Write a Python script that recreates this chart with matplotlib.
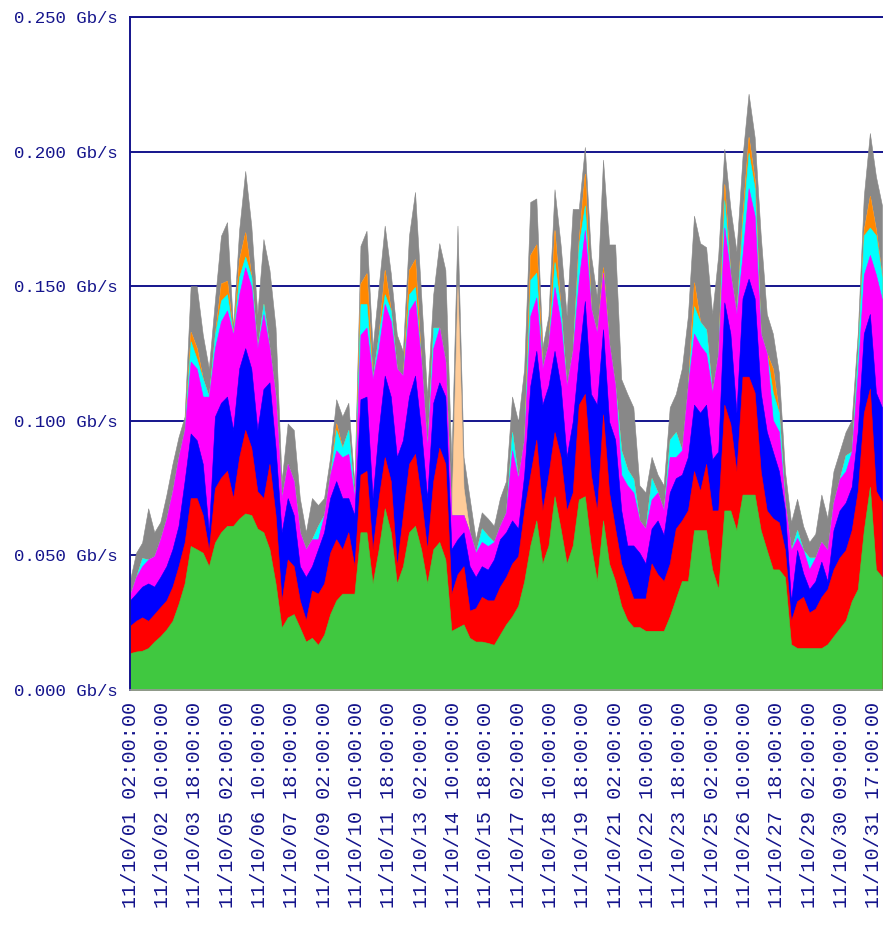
#Import libraries
import matplotlib
matplotlib.use("Agg")
import matplotlib.pyplot as plt
import numpy as np

# Hours since 11/10/01 02:00:00, one reading every 6 hours
hours = np.arange(0, 745, 6)

# Upper edge of each band in Mb/s
green_top = [13.7, 14.3, 14.6, 15.6, 18, 20, 22.5, 25.7, 32, 39.6,
             53.5, 52.3, 51, 46, 54.8, 58.6, 61, 61, 63.7, 65.6,
             65, 60, 58.6, 52.3, 39.6, 23.2, 27, 28.2, 23.2, 18,
             19.4, 16.8, 20.6, 28.2, 33.3, 35.8, 35.8, 35.8, 58.6, 58.6,
             39.6, 52.3, 67.5, 58.6, 39.6, 46, 58.6, 61, 52.3, 39.6,
             52.3, 55, 48.5, 22, 23.2, 24.4, 19.4, 18, 18, 17.5,
             16.8, 20.6, 24.4, 27.4, 31.3, 40.5, 53.7, 63, 47, 53.7,
             72, 60, 47, 53.7, 70.8, 72, 53.7, 40.5, 63, 47,
             40.5, 31.3, 26, 23.4, 23.4, 22, 22, 22, 22, 27.4,
             34, 40.5, 40.5, 59.4, 59.4, 59.4, 44.8, 37.5, 66.7, 66.7,
             59.4, 72.6, 72.6, 72.6, 59.4, 52, 44.8, 44.8, 41.9, 17,
             15.6, 15.6, 15.6, 15.6, 15.6, 17, 20, 22.9, 25.8, 33,
             37.5, 59.4, 75.5, 44.8, 42]
red_top = [23.8, 25.7, 27, 25.7, 28.2, 30.8, 33.3, 38.4, 46, 54.8,
           71.3, 71.3, 65, 52, 75, 78.9, 81.4, 71.3, 86.5, 96.6,
           90, 73.8, 71.3, 84, 65, 33.3, 48.5, 46, 33.3, 26,
           37, 35.8, 39.6, 51, 56, 52.3, 58.6, 46, 80, 81.4,
           52.3, 71.3, 86.5, 77.6, 46, 65, 84, 87.7, 71.3, 52.3,
           77.6, 90, 84, 35.8, 43, 46, 29.5, 30.4, 34.6, 33.3,
           33.3, 38.4, 42, 47, 49.7, 66.8, 80, 93, 66.8, 80,
           95.8, 86.6, 66.8, 73.4, 106, 110, 80, 66.8, 102.4, 73.4,
           60, 47, 40.5, 34, 34, 34, 47, 43, 40.5, 47,
           60, 63, 66.8, 81.3, 74, 84, 66.7, 66.7, 106, 98.8,
           81.3, 116.4, 116.4, 110.5, 81.3, 66.7, 63.8, 62.3, 52, 25.8,
           33, 34.6, 28.8, 30.2, 34.6, 37.5, 44.8, 49.2, 52, 59.4,
           74, 103, 112, 74, 70]
blue_top = [33.3, 35.8, 38.4, 39.6, 38.4, 42, 46, 52.3, 61, 77.6,
            95.3, 92.8, 84, 58.6, 101.6, 106.7, 109, 96.6, 119.4, 127,
            119.4, 96.6, 111.8, 114.3, 90, 58.6, 71.3, 65, 46, 42,
            46, 52.3, 58.6, 71.3, 77.6, 71.3, 71.3, 65, 108, 109,
            71.3, 96.6, 116.8, 109, 86.5, 92.8, 109, 116.8, 96.6, 71.3,
            106.7, 114.3, 109, 52.3, 56, 58.6, 46, 42, 46, 44.7,
            48.5, 56, 58.6, 63, 60, 80, 113, 126, 106, 113,
            126, 113, 86.6, 99.7, 123.4, 144.5, 110, 106, 134, 99.7,
            93, 66.8, 53.7, 53.7, 51, 47, 60, 63, 57.6, 73.4,
            78.7, 80, 86.6, 106, 103, 106, 85.7, 88.6, 144, 132.4,
            103, 145.5, 152.8, 145.5, 110.5, 96, 88.6, 81.3, 66.7, 33,
            52, 43.4, 37.5, 40.4, 47.7, 40.4, 59.4, 66.7, 69.6, 75.5,
            96, 132.4, 139.7, 110.5, 105]
magenta_top = [35.2, 42, 46, 48.5, 49.7, 56, 63.7, 73.8, 86.5, 96.6,
               122, 119.4, 109, 109, 127, 137, 141, 132, 147, 157,
               149.7, 127, 139.6, 127, 109, 71.3, 84, 77.6, 58.6, 52.3,
               56, 56, 65, 80, 89, 86.5, 87.7, 71.3, 132, 134.6,
               115.6, 127, 143.4, 137, 119.4, 116.8, 141, 144.7, 122, 90,
               127, 134.6, 122, 65, 65, 65, 58.6, 51, 55, 53.5,
               55, 61, 66, 89, 78.7, 93, 139, 145.8, 119.5, 128.7,
               149.7, 136.6, 113, 126, 152.4, 170.8, 141.8, 132.6, 155, 128.7,
               113, 80, 76, 73.4, 63, 60, 70.8, 73.4, 66.8, 86.6,
               86.6, 89, 113, 132.4, 128, 125, 110.5, 125, 171.8, 154.3,
               139.7, 161.6, 186.4, 176.2, 132.4, 125, 100.3, 96, 69.6, 52,
               56.5, 52, 44.8, 49.2, 55, 52, 69.6, 78.4, 81.3, 88.6,
               117.8, 154.3, 161.6, 154.3, 145]
total_top = [40.9, 51, 54.8, 67.5, 58.6, 62.4, 72.5, 84, 94, 101.6,
             150, 150, 132, 119.4, 144.7, 168.7, 173.8, 134.6, 171, 192.8,
             172.5, 139.6, 167.5, 156, 134.6, 77.6, 99, 96.6, 71.3, 58.6,
             71.3, 68.7, 71.3, 86.5, 108, 101.6, 106.7, 76.3, 165, 170.6,
             127, 149.7, 172.5, 154.8, 132, 125.7, 168.7, 185, 147, 109,
             147, 166, 156, 84, 172.5, 86.5, 71.3, 56, 66, 63.7,
             61, 71.3, 77.6, 109, 99.7, 119.5, 181.3, 182.6, 127.4, 139,
             186, 165.5, 139, 178.7, 178.7, 201.7, 161.6, 145.8, 197, 165.5,
             165.5, 115.5, 110, 105, 76, 73.4, 86.6, 80, 76, 105,
             110, 119.5, 139, 176.2, 166, 164.5, 139.7, 161.6, 201, 179,
             163, 198.1, 221.5, 205.4, 169, 139.7, 132.4, 117.8, 81.3, 62.3,
             71, 60.9, 55, 58, 72.6, 63.8, 81.3, 88.6, 95.9, 100.3,
             132.4, 183.5, 206.9, 190.8, 180]

# Thin bands stacked on the magenta one (Mb/s)
cyan_band = [0, 0, 3, 0, 0, 0, 0, 0, 0, 0,
             7.5, 3.6, 6.6, 0, 5, 7.7, 6, 0, 6.5, 4,
             3.8, 0, 3.8, 0, 0, 0, 0, 0, 0, 0,
             0, 5, 0, 0, 7.6, 3.5, 8.9, 0, 11.4, 8.8,
             0, 5, 3.6, 4, 0, 0, 6, 5, 0, 0,
             7.6, 0, 0, 0, 0, 0, 0, 0, 5, 3.8,
             0, 0, 0, 6.8, 0, 0, 13.4, 9.2, 0, 0,
             9.3, 5.2, 0, 0, 13.1, 9.2, 0, 0, 0, 0,
             0, 9, 6, 5, 0, 0, 7.9, 0, 0, 6.4,
             9.2, 0, 0, 10.2, 8.8, 8.9, 0, 0, 10.2, 0,
             0, 12, 13.2, 10.2, 0, 0, 10.2, 7, 0, 0,
             2.9, 0, 4.4, 0, 0, 0, 0, 0, 5.9, 0,
             7.2, 14.6, 10.2, 14.6, 8]
orange_band = [0, 0, 0, 0, 0, 0, 0, 0, 0, 0,
               3.5, 4, 0, 0, 0, 6.3, 5, 0, 6.5, 9,
               0, 0, 0, 0, 0, 0, 0, 0, 0, 0,
               0, 0, 0, 0, 2.4, 0, 0, 0, 7.6, 11.4,
               0, 0, 9, 0, 0, 0, 9, 10.3, 0, 0,
               0, 0, 0, 0, 0, 0, 0, 0, 0, 0,
               0, 0, 0, 0, 0, 0, 9.2, 10.5, 0, 0,
               11.8, 0, 0, 0, 2, 11.8, 0, 0, 2, 0,
               0, 0, 0, 0, 0, 0, 0, 0, 0, 0,
               0, 0, 0, 8.8, 0, 0, 0, 0, 5.9, 0,
               0, 3, 5.8, 3, 0, 0, 8.8, 0, 0, 0,
               0, 0, 0, 0, 0, 0, 0, 0, 0, 0,
               0, 2, 11.7, 2, 0]
peach_band = [0] * 54 + [85, 10] + [0] * 69

# x axis ticks (every 32 h)
tickHours = np.arange(0, 24 * 32, 32)
tickLabels = ["11/10/01 02:00:00", "11/10/02 10:00:00", "11/10/03 18:00:00",
              "11/10/05 02:00:00", "11/10/06 10:00:00", "11/10/07 18:00:00",
              "11/10/09 02:00:00", "11/10/10 10:00:00", "11/10/11 18:00:00",
              "11/10/13 02:00:00", "11/10/14 10:00:00", "11/10/15 18:00:00",
              "11/10/17 02:00:00", "11/10/18 10:00:00", "11/10/19 18:00:00",
              "11/10/21 02:00:00", "11/10/22 10:00:00", "11/10/23 18:00:00",
              "11/10/25 02:00:00", "11/10/26 10:00:00", "11/10/27 18:00:00",
              "11/10/29 02:00:00", "11/10/30 09:00:00", "11/10/31 17:00:00"]
yTicks = [0.0, 0.05, 0.10, 0.15, 0.20, 0.25]

navy = "#14148c"
monoFont = ["Liberation Mono", "DejaVu Sans Mono"]

# Build band edges in Gb/s, each one at least as high as the one below
g = np.array(green_top) / 1000.
r = np.maximum(np.array(red_top) / 1000., g)
b = np.maximum(np.array(blue_top) / 1000., r)
m = np.maximum(np.array(magenta_top) / 1000., b)
c = m + np.array(cyan_band) / 1000.
o = c + np.array(orange_band) / 1000.
p = o + np.array(peach_band) / 1000.
t = np.maximum(np.array(total_top) / 1000., p)

# Plot
fig1 = plt.figure(1, figsize=(8.83, 9.35), dpi=100)
ax1 = fig1.add_axes([130 / 883., 1 - 690 / 935., 753 / 883., 673 / 935.])

# draw from the highest edge down so neighbouring bands never leave seams
bands = [(t, "#888888"), (p, "#ffcc99"), (o, "#ff8800"), (c, "#00ffff"),
         (m, "#ff00ff"), (b, "#0000ff"), (r, "#ff0000"), (g, "#40c840")]
for top, col in bands:
    ax1.fill_between(hours, 0, top, color=col, linewidth=0.4, edgecolor=col, zorder=2)

ax1.set_xlim(0, 745)
ax1.set_ylim(0, 0.25)
ax1.set_yticks(yTicks)
ax1.set_yticklabels(["%.3f Gb/s" % v for v in yTicks])
ax1.set_xticks(tickHours)
ax1.set_xticklabels(tickLabels, rotation=90, ha="center", va="top")

for lab in ax1.get_yticklabels():
    lab.set_fontfamily(monoFont)
    lab.set_fontsize(12.5)
    lab.set_color(navy)
for lab in ax1.get_xticklabels():
    lab.set_fontfamily(monoFont)
    lab.set_fontsize(14.5)
    lab.set_color(navy)

ax1.tick_params(axis="both", length=0)
ax1.tick_params(axis="y", pad=8.5)
ax1.tick_params(axis="x", pad=8.5)

# horizontal grid behind the data
ax1.set_axisbelow(True)
ax1.yaxis.grid(True, color=navy, linewidth=1.4)
ax1.xaxis.grid(False)

ax1.spines["right"].set_visible(False)
ax1.spines["top"].set_color(navy)
ax1.spines["top"].set_linewidth(1.4)
ax1.spines["left"].set_color(navy)
ax1.spines["left"].set_linewidth(1.4)
ax1.spines["bottom"].set_color("#999999")
ax1.spines["bottom"].set_linewidth(1.2)

fig1.savefig("out.png", dpi=100)
plt.close(fig1)
